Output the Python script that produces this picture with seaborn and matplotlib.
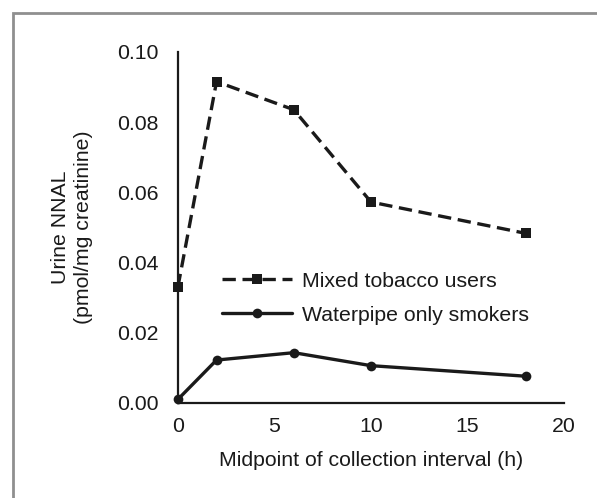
import pandas as pd
import numpy as np
import matplotlib
matplotlib.use('Agg')
import matplotlib.pyplot as plt
from matplotlib.patches import Rectangle
import seaborn as sns

# values
hours = [0, 2, 6, 10, 18]
mixed_nnal = [0.033, 0.0915, 0.0835, 0.0572, 0.0483]
waterpipe_nnal = [0.001, 0.0122, 0.0143, 0.0106, 0.0076]
series_labels = ['Mixed tobacco users', 'Waterpipe only smokers']
x_ticks = [0, 5, 10, 15, 20]
y_ticks = [0.00, 0.02, 0.04, 0.06, 0.08, 0.10]

df = pd.DataFrame({
    'hour': hours * 2,
    'nnal': mixed_nnal + waterpipe_nnal,
    'group': [series_labels[0]] * len(hours) + [series_labels[1]] * len(hours),
})

sns.set_style('white')
plt.rcParams['font.family'] = ['Liberation Sans', 'DejaVu Sans']
fs = 15.3

fig = plt.figure(figsize=(5.97, 4.98), dpi=100)
ax = fig.add_axes([0.298, 0.191, 0.647, 0.705])

sns.lineplot(data=df, x='hour', y='nnal', style='group',
             markers={series_labels[0]: 's', series_labels[1]: 'o'},
             dashes={series_labels[0]: (4, 2), series_labels[1]: ''},
             color='#1a1a1a', linewidth=2.4, markersize=7,
             markeredgewidth=0, ax=ax, clip_on=False)

for line in ax.lines:
    line.set_clip_on(False)

ax.set_xlim(0, 20)
ax.set_ylim(0, 0.10)
ax.set_xticks(x_ticks)
ax.set_yticks(y_ticks)
ax.set_yticklabels([f'{v:.2f}' for v in y_ticks])

for side in ['top', 'right']:
    ax.spines[side].set_visible(False)
for side in ['left', 'bottom']:
    ax.spines[side].set_linewidth(1.6)
    ax.spines[side].set_color('#1a1a1a')

ax.tick_params(axis='both', direction='out', length=3, width=1.3,
               colors='#1a1a1a', labelsize=fs)
ax.tick_params(axis='y', pad=11)
ax.tick_params(axis='x', pad=7)

ax.set_xlabel('Midpoint of collection interval (h)', fontsize=fs,
              color='#1a1a1a', labelpad=11)
ax.set_ylabel('Urine NNAL\n(pmol/mg creatinine)', fontsize=fs,
              color='#1a1a1a', labelpad=17, linespacing=1.3)

leg = ax.legend(loc='upper left', bbox_to_anchor=(0.114, 0.374),
                frameon=False, fontsize=fs, handlelength=3.3,
                handletextpad=0.47, labelspacing=0.72,
                borderpad=0, borderaxespad=0)
for t in leg.get_texts():
    t.set_color('#1a1a1a')

# grey frame around the figure (runs off the right and bottom edges)
fig.patches.append(Rectangle((0.0218, -0.05), 1.1, 1.024,
                             transform=fig.transFigure, fill=False,
                             edgecolor='#8f8f8f', linewidth=2.0))

fig.savefig('out.png', dpi=100)
